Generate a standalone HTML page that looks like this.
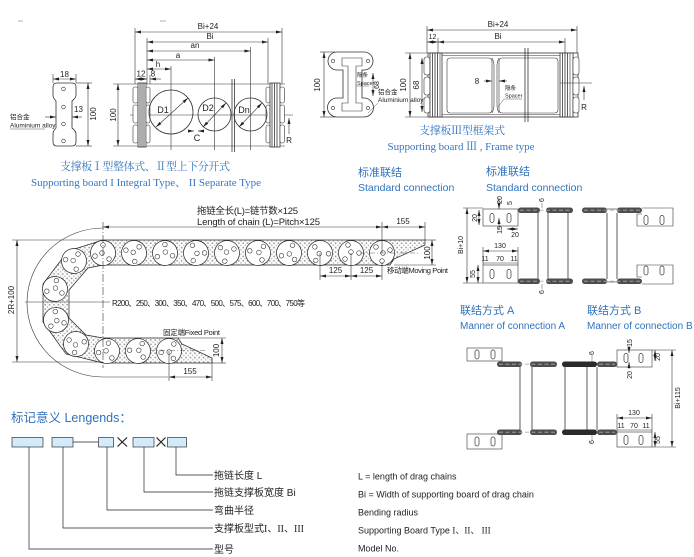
<!DOCTYPE html>
<html><head><meta charset="utf-8">
<style>
html,body{margin:0;padding:0;background:#fff;width:694px;height:557px;overflow:hidden}
svg{display:block}
text{font-family:"Liberation Sans","Noto Sans CJK SC",sans-serif;fill:#222}
.sf{font-family:"Liberation Serif","Noto Serif CJK SC",serif;fill:#3576c0}
.bl{fill:#2f72bb}
</style></head><body>
<svg width="694" height="557" viewBox="0 0 694 557" xmlns="http://www.w3.org/2000/svg" xmlns:xlink="http://www.w3.org/1999/xlink">
<defs>
<marker id="ar" viewBox="0 0 8 6" refX="8" refY="3" markerWidth="6" markerHeight="3" preserveAspectRatio="none" orient="auto-start-reverse" markerUnits="userSpaceOnUse"><path d="M0,0L8,3L0,6z" fill="#222"/></marker>
<pattern id="dt" width="4.4" height="4.4" patternUnits="userSpaceOnUse"><circle cx="1.2" cy="1.2" r="0.9" fill="#9c9c9c"/><circle cx="3.4" cy="3.4" r="0.8" fill="#b4b4b4"/></pattern>
<g id="lk"><circle r="12.5" fill="#fff" stroke="#222" stroke-width="0.7"/><g fill="none" stroke="#333" stroke-width="0.6"><circle cx="0" cy="-8" r="2.3"/><circle cx="-1" cy="0" r="2.3"/><circle cx="-8" cy="3" r="2.3"/><circle cx="6" cy="6" r="2.3"/></g></g>
<g id="sl"><rect x="-2" y="-4.5" width="4" height="9" rx="2" fill="none" stroke="#333" stroke-width="0.7"/></g>
</defs>

<!-- tiny marks at top -->
<line x1="18" y1="21" x2="23" y2="21" stroke="#999" stroke-width="0.8"/>
<line x1="160" y1="21" x2="166" y2="21" stroke="#999" stroke-width="0.8"/>

<!-- ============ TYPE I / II ============ -->
<g stroke="#333" stroke-width="0.6" fill="none">
 <!-- side piece -->
 <path d="M57,83H72Q76,83 76,87V95Q76,98 72,101V128Q76,131 76,134V142Q76,146 72,146H57Q53,146 53,142V134Q53,131 56,128V101Q53,98 53,95V87Q53,83 57,83Z" stroke-width="0.8"/>
 <circle cx="63.5" cy="89" r="1.8"/><circle cx="63.5" cy="107" r="1.8"/><circle cx="63.5" cy="124" r="1.8"/><circle cx="63.5" cy="141" r="1.8"/>
 <line x1="53" y1="74" x2="53" y2="83"/><line x1="76" y1="74" x2="76" y2="83"/>
 <line x1="53" y1="79" x2="76" y2="79" marker-start="url(#ar)" marker-end="url(#ar)"/>
 <line x1="76" y1="83" x2="92" y2="83"/><line x1="76" y1="146" x2="92" y2="146"/>
 <line x1="88" y1="83" x2="88" y2="146" marker-start="url(#ar)" marker-end="url(#ar)"/>
 <line x1="45" y1="117" x2="56" y2="117" marker-end="url(#ar)"/>
 <line x1="82" y1="117" x2="72" y2="117" marker-end="url(#ar)"/>
 <line x1="10" y1="129" x2="45" y2="129" stroke-width="0.4"/>

 <!-- front view -->
 <line x1="113" y1="84" x2="285" y2="84"/><line x1="113" y1="146" x2="285" y2="146"/>
 <line x1="118" y1="84" x2="118" y2="146" marker-start="url(#ar)" marker-end="url(#ar)"/>
 <line x1="130" y1="115" x2="293" y2="115" stroke-width="0.5"/>
 <!-- left block -->
 <rect x="133" y="87" width="5" height="16" rx="2" fill="#fff"/><rect x="133" y="105" width="5" height="18" rx="2" fill="#fff"/><rect x="133" y="125" width="5" height="18" rx="2" fill="#fff"/>
 <rect x="138" y="83" width="8" height="64" fill="#fff" stroke-width="0.8"/>
 <line x1="140" y1="83" x2="140" y2="147" stroke-width="0.8"/><line x1="142" y1="83" x2="142" y2="147" stroke-width="0.8"/><line x1="144" y1="83" x2="144" y2="147" stroke-width="0.8"/>
 <rect x="146" y="87" width="4" height="16" rx="2" fill="#fff"/><rect x="146" y="105" width="4" height="18" rx="2" fill="#fff"/><rect x="146" y="125" width="4" height="18" rx="2" fill="#fff"/>
 <!-- right block -->
 <rect x="266" y="87" width="4" height="16" rx="2" fill="#fff"/><rect x="266" y="105" width="4" height="18" rx="2" fill="#fff"/><rect x="266" y="125" width="4" height="18" rx="2" fill="#fff"/>
 <rect x="270" y="83" width="10" height="64" fill="#fff" stroke-width="0.8"/>
 <line x1="272" y1="83" x2="272" y2="147" stroke-width="0.8"/><line x1="274.5" y1="83" x2="274.5" y2="147" stroke-width="0.8"/><line x1="277" y1="83" x2="277" y2="147" stroke-width="0.8"/>
 <rect x="280" y="87" width="4.5" height="16" rx="2" fill="#fff"/><rect x="280" y="105" width="4.5" height="18" rx="2" fill="#fff"/><rect x="280" y="125" width="4.5" height="18" rx="2" fill="#fff"/>
 <!-- separator -->
 <line x1="232" y1="79" x2="232" y2="152" stroke-width="0.8"/><line x1="234.5" y1="79" x2="234.5" y2="152" stroke-width="0.8"/>
 <!-- circles -->
 <circle cx="171" cy="112" r="22" stroke-width="0.8"/>
 <circle cx="214.5" cy="114.5" r="16.5" stroke-width="0.8"/>
 <circle cx="250.5" cy="114.5" r="16.5" stroke-width="0.8"/>
 <line x1="156" y1="127" x2="188" y2="98" marker-start="url(#ar)" marker-end="url(#ar)"/>
 <line x1="203" y1="127" x2="226" y2="103" marker-start="url(#ar)" marker-end="url(#ar)"/>
 <line x1="239" y1="127" x2="262" y2="103" marker-start="url(#ar)" marker-end="url(#ar)"/>
 <line x1="189" y1="131" x2="194" y2="131" marker-end="url(#ar)"/><line x1="203" y1="131" x2="198" y2="131" marker-end="url(#ar)"/>
 <!-- ext lines -->
 <line x1="135" y1="28" x2="135" y2="84"/><line x1="147" y1="38" x2="147" y2="84"/>
 <line x1="171" y1="66" x2="171" y2="150"/><line x1="214.5" y1="57" x2="214.5" y2="150"/><line x1="250.5" y1="47" x2="250.5" y2="150"/>
 <line x1="268" y1="38" x2="268" y2="84"/><line x1="282" y1="28" x2="282" y2="84"/><line x1="150" y1="75" x2="150" y2="84"/>
 <line x1="135" y1="32" x2="282" y2="32" marker-start="url(#ar)" marker-end="url(#ar)"/>
 <line x1="147" y1="42" x2="268" y2="42" marker-start="url(#ar)" marker-end="url(#ar)"/>
 <line x1="147" y1="51" x2="250.5" y2="51" marker-start="url(#ar)" marker-end="url(#ar)"/>
 <line x1="147" y1="60" x2="214.5" y2="60" marker-start="url(#ar)" marker-end="url(#ar)"/>
 <line x1="147" y1="69" x2="171" y2="69" marker-start="url(#ar)" marker-end="url(#ar)"/>
 <line x1="135" y1="79" x2="147" y2="79" marker-start="url(#ar)" marker-end="url(#ar)"/>
 <line x1="161" y1="79" x2="150" y2="79" marker-end="url(#ar)"/>
 <line x1="289" y1="134" x2="289" y2="118" marker-end="url(#ar)"/>
</g>
<g font-size="8">
 <text x="64.5" y="77" text-anchor="middle">18</text>
 <text x="74" y="112">13</text>
 <text transform="translate(96,114) rotate(-90)" text-anchor="middle">100</text>
 <text x="10" y="119" font-size="6.5">铝合金</text>
 <text x="10" y="127.5" font-size="6.5">Aluminium alloy</text>
 <text transform="translate(116,115) rotate(-90)" text-anchor="middle">100</text>
 <text x="208" y="29" text-anchor="middle">Bi+24</text>
 <text x="210" y="39" text-anchor="middle">Bi</text>
 <text x="195" y="48" text-anchor="middle">an</text>
 <text x="178" y="58" text-anchor="middle">a</text>
 <text x="158" y="67" text-anchor="middle">h</text>
 <text x="141" y="76.5" text-anchor="middle">12</text>
 <text x="153" y="76.5" text-anchor="middle">8</text>
 <text x="163" y="113" font-size="9" text-anchor="middle">D1</text>
 <text x="208" y="111" font-size="9" text-anchor="middle">D2</text>
 <text x="244" y="113" font-size="9" text-anchor="middle">Dn</text>
 <text x="197" y="141" text-anchor="middle" font-size="9">C</text>
 <text x="289" y="143" text-anchor="middle">R</text>
</g>
<text class="sf" x="145" y="170" font-size="11" text-anchor="middle" textLength="170">支撑板Ⅰ型整体式、Ⅱ型上下分开式</text>
<text class="sf" x="146" y="186" font-size="11" text-anchor="middle" textLength="230">Supporting board I Integral Type、 II Separate Type</text>

<!-- ============ TYPE III ============ -->
<g stroke="#333" stroke-width="0.6" fill="none">
 <path d="M337,52H364A9,9 0 0 1 364,70H362V98H364A9.5,9.5 0 0 1 364,117H337A9.5,9.5 0 0 1 337,98H343V70H337A9,9 0 0 1 337,52Z" stroke-width="0.8"/>
 <path d="M342,58H362V66H356V103H362V111H342V103H348V66H342Z"/>
 <circle cx="333" cy="61" r="1.6"/><circle cx="368" cy="61" r="1.6"/><circle cx="333" cy="108" r="1.6"/><circle cx="368" cy="108" r="1.6"/>
 <line x1="320" y1="52" x2="335" y2="52"/><line x1="320" y1="117" x2="335" y2="117"/>
 <line x1="324" y1="52" x2="324" y2="117" marker-start="url(#ar)" marker-end="url(#ar)"/>
 <line x1="373" y1="73" x2="373" y2="96" marker-start="url(#ar)" marker-end="url(#ar)"/>
 <line x1="356" y1="86" x2="369" y2="86" stroke-width="0.4"/>
 <line x1="378" y1="103" x2="368" y2="113" stroke-width="0.4"/>
 <!-- frame -->
 <line x1="427" y1="26" x2="427" y2="53"/><line x1="577" y1="26" x2="577" y2="53"/>
 <line x1="438" y1="38" x2="438" y2="53"/><line x1="565" y1="38" x2="565" y2="53"/>
 <line x1="427" y1="30" x2="577" y2="30" marker-start="url(#ar)" marker-end="url(#ar)"/>
 <line x1="438" y1="42" x2="565" y2="42" marker-start="url(#ar)" marker-end="url(#ar)"/>
 <line x1="427" y1="42" x2="438" y2="42" marker-start="url(#ar)" marker-end="url(#ar)"/>
 <line x1="405" y1="53" x2="428" y2="53"/><line x1="405" y1="117" x2="428" y2="117"/>
 <line x1="410" y1="53" x2="410" y2="117" marker-start="url(#ar)" marker-end="url(#ar)"/>
 <line x1="422" y1="58" x2="422" y2="112" marker-start="url(#ar)" marker-end="url(#ar)"/>
 <rect x="428" y="53" width="150" height="64" stroke-width="0.8"/>
 <line x1="442" y1="55.5" x2="560" y2="55.5"/><line x1="442" y1="114.5" x2="560" y2="114.5"/>
 <rect x="424" y="57" width="6" height="18" rx="2.5" fill="#fff"/><rect x="424" y="77" width="6" height="18" rx="2.5" fill="#fff"/><rect x="424" y="97" width="6" height="16" rx="2.5" fill="#fff"/>
 <rect x="430" y="53" width="12" height="64" fill="#fff" stroke-width="0.8"/>
 <line x1="432.5" y1="53" x2="432.5" y2="117" stroke-width="0.8"/><line x1="435" y1="53" x2="435" y2="117" stroke-width="0.8"/><line x1="437.5" y1="53" x2="437.5" y2="117" stroke-width="0.8"/><line x1="440" y1="53" x2="440" y2="117"/>
 <rect x="560" y="53" width="13" height="64" fill="#fff" stroke-width="0.8"/>
 <line x1="562.5" y1="53" x2="562.5" y2="117" stroke-width="0.8"/><line x1="565" y1="53" x2="565" y2="117" stroke-width="0.8"/><line x1="567.5" y1="53" x2="567.5" y2="117" stroke-width="0.8"/><line x1="570" y1="53" x2="570" y2="117"/>
 <rect x="573" y="57" width="6" height="18" rx="2.5" fill="#fff"/><rect x="573" y="77" width="6" height="18" rx="2.5" fill="#fff"/><rect x="573" y="97" width="6" height="16" rx="2.5" fill="#fff"/>
 <rect x="447" y="58" width="45" height="55" rx="3"/>
 <rect x="499" y="58" width="59" height="55" rx="3"/>
 <path d="M492,58Q494,62 494,66V105Q494,109 492,113M499,58Q497,62 497,66V105Q497,109 499,113"/>
 <line x1="525" y1="48" x2="525" y2="122" stroke-width="0.8"/><line x1="528" y1="48" x2="528" y2="122" stroke-width="0.8"/>
 <line x1="484" y1="81" x2="492" y2="81" marker-end="url(#ar)"/>
 <line x1="507" y1="81" x2="499" y2="81" marker-end="url(#ar)"/>
 <line x1="504" y1="99" x2="522" y2="99" stroke-width="0.4"/><line x1="504" y1="99" x2="498" y2="107" stroke-width="0.4"/>
 <line x1="560" y1="83" x2="592" y2="83" stroke-width="0.5"/>
 <line x1="584" y1="100" x2="584" y2="86" marker-end="url(#ar)"/>
</g>
<g font-size="7">
 <text transform="translate(320,85) rotate(-90)" text-anchor="middle" font-size="8">100</text>
 <text x="357" y="77" font-size="5.5">隔条</text>
 <text x="357" y="85" font-size="5.5">Spacer</text>
 <text transform="translate(379,85) rotate(-90)" text-anchor="middle">68</text>
 <text x="378" y="94" font-size="6.5">铝合金</text>
 <text x="378" y="102" font-size="6.5">Aluminium alloy</text>
 <text x="498" y="27" text-anchor="middle" font-size="8">Bi+24</text>
 <text x="498" y="39" text-anchor="middle" font-size="8">Bi</text>
 <text x="432.5" y="39" text-anchor="middle">12</text>
 <text transform="translate(406,85) rotate(-90)" text-anchor="middle" font-size="8">100</text>
 <text transform="translate(419,85) rotate(-90)" text-anchor="middle" font-size="8">68</text>
 <text x="477" y="84" text-anchor="middle" font-size="8">8</text>
 <text x="505" y="90" font-size="5.5">隔条</text>
 <text x="505" y="97.5" font-size="5.5">Spacer</text>
 <text x="584" y="110" text-anchor="middle" font-size="8">R</text>
</g>
<text class="sf" x="462" y="134" font-size="11" text-anchor="middle" textLength="86">支撑板Ⅲ型框架式</text>
<text class="sf" x="461" y="150" font-size="11" text-anchor="middle" textLength="147">Supporting board Ⅲ , Frame type</text>

<!-- ============ CHAIN ============ -->
<path d="M103,240L425,240L425,245L394,259L390,265L103,265L88,268L69,290L69,318L86,335L103,338L178,338L182,344L212,358L212,363L103,363L66,354L43,322L43,284L68,251Z" fill="url(#dt)" stroke="#222" stroke-width="0.7"/>
<g>
 <use xlink:href="#lk" transform="translate(103,253) rotate(0)"/>
 <use xlink:href="#lk" transform="translate(134,253) rotate(40)"/>
 <use xlink:href="#lk" transform="translate(165,253) rotate(110)"/>
 <use xlink:href="#lk" transform="translate(196,253) rotate(200)"/>
 <use xlink:href="#lk" transform="translate(227,253) rotate(60)"/>
 <use xlink:href="#lk" transform="translate(258,253) rotate(150)"/>
 <use xlink:href="#lk" transform="translate(289,253) rotate(250)"/>
 <use xlink:href="#lk" transform="translate(320,253) rotate(320)"/>
 <use xlink:href="#lk" transform="translate(351,253) rotate(90)"/>
 <use xlink:href="#lk" transform="translate(382,253) rotate(180)"/>
 <use xlink:href="#lk" transform="translate(74,261) rotate(30)"/>
 <use xlink:href="#lk" transform="translate(55,289) rotate(120)"/>
 <use xlink:href="#lk" transform="translate(56,320) rotate(220)"/>
 <use xlink:href="#lk" transform="translate(76,344) rotate(300)"/>
 <use xlink:href="#lk" transform="translate(107,351) rotate(10)"/>
 <use xlink:href="#lk" transform="translate(138,351) rotate(140)"/>
 <use xlink:href="#lk" transform="translate(169,351) rotate(260)"/>
</g>
<g stroke="#333" stroke-width="0.6" fill="none">
 <path d="M103,228A76,74.5 0 0 0 103,377L168,377"/>
 <line x1="103" y1="222" x2="103" y2="368" stroke-dasharray="8 2 1 2"/>
 <line x1="25" y1="302" x2="110" y2="302"/>
 <line x1="12" y1="240" x2="103" y2="240"/><line x1="12" y1="362" x2="103" y2="362"/>
 <line x1="17" y1="240" x2="17" y2="362" marker-start="url(#ar)" marker-end="url(#ar)"/>
 <line x1="103" y1="227" x2="382" y2="227" marker-start="url(#ar)" marker-end="url(#ar)"/>
 <line x1="382" y1="222" x2="382" y2="253"/><line x1="425" y1="222" x2="425" y2="240"/>
 <line x1="382" y1="227" x2="425" y2="227" marker-start="url(#ar)" marker-end="url(#ar)"/>
 <line x1="425" y1="240" x2="436" y2="240"/><line x1="394" y1="265" x2="436" y2="265"/>
 <line x1="432" y1="240" x2="432" y2="265" marker-start="url(#ar)" marker-end="url(#ar)"/>
 <line x1="320" y1="253" x2="320" y2="280"/><line x1="351" y1="253" x2="351" y2="280"/><line x1="382" y1="262" x2="382" y2="280"/>
 <line x1="320" y1="276" x2="351" y2="276" marker-start="url(#ar)" marker-end="url(#ar)"/>
 <line x1="351" y1="276" x2="382" y2="276" marker-start="url(#ar)" marker-end="url(#ar)"/>
 <line x1="360" y1="253" x2="420" y2="253" stroke-dasharray="5 2 1 2" stroke-width="0.4"/>
 <line x1="150" y1="350.5" x2="207" y2="350.5" stroke-dasharray="5 2 1 2" stroke-width="0.4"/>
 <line x1="178" y1="338" x2="226" y2="338"/><line x1="212" y1="363" x2="226" y2="363"/>
 <line x1="222" y1="338" x2="222" y2="363" marker-start="url(#ar)" marker-end="url(#ar)"/>
 <line x1="169" y1="351" x2="169" y2="381"/><line x1="212" y1="358" x2="212" y2="381"/>
 <line x1="169" y1="377" x2="212" y2="377" marker-start="url(#ar)" marker-end="url(#ar)"/>
</g>
<g font-size="8">
 <text x="197" y="214" font-size="9.5" textLength="101">拖链全长(L)=链节数×125</text>
 <text x="197" y="225" font-size="9.5" textLength="123">Length of chain (L)=Pitch×125</text>
 <text x="403" y="224" text-anchor="middle">155</text>
 <text transform="translate(430,253) rotate(-90)" text-anchor="middle">100</text>
 <text x="335.5" y="273" text-anchor="middle">125</text>
 <text x="366.5" y="273" text-anchor="middle">125</text>
 <text x="387" y="273" font-size="7.5" textLength="61">移动端Moving Point</text>
 <text x="112" y="306" textLength="193">R200、250、300、350、470、500、575、600、700、750等</text>
 <text transform="translate(14,300) rotate(-90)" text-anchor="middle">2R+100</text>
 <text x="163" y="335" font-size="7.5" textLength="57">固定端Fixed Point</text>
 <text transform="translate(219,350.5) rotate(-90)" text-anchor="middle">100</text>
 <text x="190" y="374" text-anchor="middle">155</text>
</g>

<!-- ============ CONNECTIONS ============ -->
<text class="bl" x="358" y="176" font-size="11">标准联结</text>
<text class="bl" x="358" y="191" font-size="10.5">Standard connection</text>
<text class="bl" x="486" y="175" font-size="11">标准联结</text>
<text class="bl" x="486" y="191" font-size="10.5">Standard connection</text>

<g stroke="#333" stroke-width="0.6" fill="none">
 <!-- standard: left brackets -->
 <rect x="483" y="209" width="35" height="17" fill="#fff"/>
 <rect x="483" y="265" width="35" height="18" fill="#fff"/>
 <line x1="463" y1="208" x2="483" y2="208"/><line x1="463" y1="283" x2="483" y2="283"/>
 <line x1="467" y1="208" x2="467" y2="283" marker-start="url(#ar)" marker-end="url(#ar)"/>
 <line x1="479" y1="210" x2="479" y2="225" marker-start="url(#ar)" marker-end="url(#ar)"/>
 <line x1="499" y1="198" x2="499" y2="209" marker-end="url(#ar)"/>
 <line x1="499" y1="230" x2="499" y2="218" marker-end="url(#ar)"/>
 <line x1="507" y1="229" x2="518" y2="229" marker-start="url(#ar)" marker-end="url(#ar)"/>
 <line x1="483" y1="247" x2="483" y2="265"/><line x1="518" y1="247" x2="518" y2="265"/>
 <line x1="483" y1="251" x2="518" y2="251" marker-start="url(#ar)" marker-end="url(#ar)"/>
 <line x1="483" y1="263" x2="518" y2="263"/>
 <line x1="478" y1="265" x2="478" y2="283" marker-start="url(#ar)" marker-end="url(#ar)"/>
 <!-- plates -->
 <line x1="538" y1="213" x2="538" y2="279" stroke-width="0.8"/>
 <line x1="548" y1="213" x2="548" y2="279" stroke-width="0.8"/>
 <line x1="568" y1="213" x2="568" y2="279" stroke-width="0.8"/>
 <line x1="607" y1="213" x2="607" y2="279" stroke-width="0.8"/>
 <line x1="617" y1="213" x2="617" y2="279" stroke-width="0.8"/>
 <line x1="607" y1="209" x2="617" y2="209"/><line x1="607" y1="282" x2="617" y2="282"/>
 <!-- right brackets standard -->
 <path d="M642,208H673V226H637V214H642"/>
 <path d="M642,284H673V265H637V277H642"/>
 <!-- A brackets -->
 <rect x="467" y="348" width="35" height="13" fill="#fff"/>
 <rect x="467" y="434" width="35" height="15" fill="#fff"/>
 <!-- A/B plates -->
 <line x1="520" y1="367" x2="520" y2="430" stroke-width="0.8"/>
 <line x1="532" y1="367" x2="532" y2="430" stroke-width="0.8"/>
 <line x1="565" y1="367" x2="565" y2="430" stroke-width="0.8"/>
 <line x1="587" y1="367" x2="587" y2="430" stroke-width="0.8"/>
 <line x1="597" y1="367" x2="597" y2="430" stroke-width="0.8"/>
 <!-- B brackets -->
 <rect x="617" y="350" width="35" height="17" fill="#fff"/>
 <rect x="617" y="432" width="35" height="15" fill="#fff"/>
 <line x1="652" y1="350" x2="676" y2="350"/><line x1="652" y1="447" x2="676" y2="447"/>
 <line x1="672" y1="350" x2="672" y2="447" marker-start="url(#ar)" marker-end="url(#ar)"/>
 <line x1="655" y1="350" x2="655" y2="361" marker-start="url(#ar)" marker-end="url(#ar)"/>
 <line x1="629" y1="346" x2="629" y2="353" marker-end="url(#ar)"/>
 <line x1="629" y1="369" x2="629" y2="362" marker-end="url(#ar)"/>
 <line x1="617" y1="414" x2="617" y2="432"/><line x1="652" y1="414" x2="652" y2="432"/>
 <line x1="617" y1="418" x2="652" y2="418" marker-start="url(#ar)" marker-end="url(#ar)"/>
 <line x1="617" y1="430" x2="652" y2="430"/>
 <line x1="655" y1="432" x2="655" y2="447" marker-start="url(#ar)" marker-end="url(#ar)"/>
 <line x1="592" y1="355" x2="592" y2="362" stroke-width="0.4"/><line x1="592" y1="434" x2="592" y2="440" stroke-width="0.4"/>
 <line x1="542" y1="203" x2="542" y2="208" stroke-width="0.4"/><line x1="542" y1="284" x2="542" y2="289" stroke-width="0.4"/>
</g>
<!-- slots -->
<use xlink:href="#sl" x="492" y="218"/><use xlink:href="#sl" x="509" y="218"/>
<use xlink:href="#sl" x="492" y="274"/><use xlink:href="#sl" x="509" y="274"/>
<use xlink:href="#sl" x="646" y="220"/><use xlink:href="#sl" x="662" y="220"/>
<use xlink:href="#sl" x="646" y="270.5"/><use xlink:href="#sl" x="662" y="270.5"/>
<use xlink:href="#sl" x="477" y="354.5"/><use xlink:href="#sl" x="493" y="354.5"/>
<use xlink:href="#sl" x="477" y="441.5"/><use xlink:href="#sl" x="493" y="441.5"/>
<use xlink:href="#sl" x="626" y="358"/><use xlink:href="#sl" x="641" y="358"/>
<use xlink:href="#sl" x="626" y="440"/><use xlink:href="#sl" x="641" y="440"/>
<!-- chain segments -->
<g fill="#4d4d4d">
 <rect x="518" y="207.5" width="22" height="5.5" rx="2.7"/><rect x="546" y="207.5" width="27" height="5.5" rx="2.7"/>
 <rect x="518" y="278.5" width="22" height="5.5" rx="2.7"/><rect x="546" y="278.5" width="27" height="5.5" rx="2.7"/>
 <rect x="582" y="207.5" width="25" height="5.5" rx="2.7"/><rect x="617" y="207.5" width="25" height="5.5" rx="2.7"/>
 <rect x="582" y="278.5" width="25" height="5.5" rx="2.7"/><rect x="617" y="278.5" width="25" height="5.5" rx="2.7"/>
 <rect x="497" y="361.5" width="25" height="5.5" rx="2.7"/><rect x="530" y="361.5" width="27" height="5.5" rx="2.7"/>
 <rect x="497" y="429.5" width="25" height="5.5" rx="2.7"/><rect x="530" y="429.5" width="27" height="5.5" rx="2.7"/>
 <rect x="562" y="361.5" width="35" height="5.5" rx="2.7" fill="#2a2a2a"/><rect x="597" y="361.5" width="20" height="5.5" rx="2.7"/>
 <rect x="562" y="429.5" width="35" height="5.5" rx="2.7" fill="#2a2a2a"/><rect x="597" y="429.5" width="20" height="5.5" rx="2.7"/>
</g>
<g stroke="#aaa" stroke-width="0.8" stroke-dasharray="4 2.5">
 <line x1="520" y1="210.2" x2="571" y2="210.2"/><line x1="520" y1="281.2" x2="571" y2="281.2"/>
 <line x1="584" y1="210.2" x2="640" y2="210.2"/><line x1="584" y1="281.2" x2="640" y2="281.2"/>
 <line x1="499" y1="364.2" x2="555" y2="364.2"/><line x1="499" y1="432.2" x2="555" y2="432.2"/>
 <line x1="599" y1="364.2" x2="615" y2="364.2"/><line x1="599" y1="432.2" x2="615" y2="432.2"/>
</g>
<g font-size="7">
 <text transform="translate(463,245) rotate(-90)" text-anchor="middle">Bi+10</text>
 <text transform="translate(502,200) rotate(-90)" text-anchor="middle">20</text>
 <text transform="translate(512,203) rotate(-90)" text-anchor="middle">5</text>
 <text transform="translate(477,218) rotate(-90)" text-anchor="middle">20</text>
 <text transform="translate(502,230) rotate(-90)" text-anchor="middle">15</text>
 <text x="515" y="237" text-anchor="middle">20</text>
 <text x="500" y="248" text-anchor="middle">130</text>
 <text x="485" y="261" text-anchor="middle">11</text>
 <text x="500" y="261" text-anchor="middle">70</text>
 <text x="514" y="261" text-anchor="middle">11</text>
 <text transform="translate(475,274) rotate(-90)" text-anchor="middle">55</text>
 <text transform="translate(544,200) rotate(-90)" text-anchor="middle">6</text>
 <text transform="translate(544,292) rotate(-90)" text-anchor="middle">6</text>
 <text transform="translate(632,343) rotate(-90)" text-anchor="middle">15</text>
 <text transform="translate(660,357) rotate(-90)" text-anchor="middle">20</text>
 <text transform="translate(632,375) rotate(-90)" text-anchor="middle">20</text>
 <text transform="translate(680,398) rotate(-90)" text-anchor="middle">Bi+115</text>
 <text x="634" y="415" text-anchor="middle">130</text>
 <text x="621" y="428" text-anchor="middle">11</text>
 <text x="634" y="428" text-anchor="middle">70</text>
 <text x="646" y="428" text-anchor="middle">11</text>
 <text transform="translate(660,440) rotate(-90)" text-anchor="middle">55</text>
 <text transform="translate(594,353) rotate(-90)" text-anchor="middle">6</text>
 <text transform="translate(594,442) rotate(-90)" text-anchor="middle">6</text>
</g>
<text class="bl" x="460" y="314" font-size="11">联结方式 A</text>
<text class="bl" x="460" y="329" font-size="10">Manner of connection A</text>
<text class="bl" x="587" y="314" font-size="11">联结方式 B</text>
<text class="bl" x="587" y="329" font-size="10">Manner of connection B</text>

<!-- ============ LEGEND ============ -->
<text class="bl" x="11" y="422" font-size="12.5">标记意义 Lengends：</text>
<g stroke="#333" stroke-width="0.7" fill="#d3eaf8">
 <rect x="12" y="437.5" width="31" height="9.5"/>
 <rect x="52" y="437.5" width="21" height="9.5"/>
 <rect x="98.5" y="437.5" width="15" height="9.5"/>
 <rect x="133" y="437.5" width="21" height="9.5"/>
 <rect x="167.5" y="437.5" width="19" height="9.5"/>
</g>
<g stroke="#222" stroke-width="0.7" fill="none">
 <line x1="73" y1="442" x2="98.5" y2="442"/>
 <path d="M117.5,437.5L127,446.5M127,437.5L117.5,446.5" stroke-width="1.2"/>
 <path d="M156.5,437.5L165.5,446.5M165.5,437.5L156.5,446.5" stroke-width="1.2"/>
 <path d="M176,447V475H213"/>
 <path d="M144,447V492H213"/>
 <path d="M107,447V510H213"/>
 <path d="M63,447V528H213"/>
 <path d="M29,447V549H213"/>
</g>
<g font-size="10">
 <text x="214" y="479">拖链长度 L</text>
 <text x="214" y="496">拖链支撑板宽度 Bi</text>
 <text x="214" y="514">弯曲半径</text>
 <text x="214" y="532">支撑板型式<tspan font-family="Liberation Serif,serif">I、II、III</tspan></text>
 <text x="214" y="553">型号</text>
</g>
<g font-size="9">
 <text x="358" y="479.5">L = length of drag chains</text>
 <text x="358" y="497.5">Bi = Width of supporting board of drag chain</text>
 <text x="358" y="515.5">Bending radius</text>
 <text x="358" y="533.5">Supporting Board Type <tspan font-family="Liberation Serif,serif">I、II、 III</tspan></text>
 <text x="358" y="551.5">Model No.</text>
</g>
</svg>
</body></html>
